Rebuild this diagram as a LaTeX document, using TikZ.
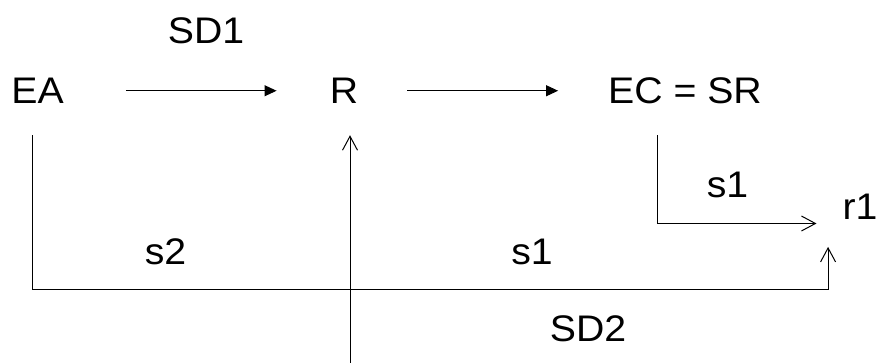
\documentclass[tikz,border=0pt]{standalone}
\usepackage{fontspec}
\setmainfont{Liberation Sans}
\usetikzlibrary{arrows.meta}
\tikzstyle{term} = [inner sep=0pt, anchor=base, text height=26.5pt, text depth=0pt, font=\fontsize{37}{44}\selectfont\addfontfeature{FakeStretch=1.06}]
\tikzstyle{arrow} = [line width=1pt,-{Triangle[length=12pt,width=11pt]}]
\tikzstyle{openarrow} = [line width=1pt,-{Straight Barb[length=14pt,width=15pt]}]

\begin{document}
\begin{tikzpicture}[x=1pt,y=1pt]
\useasboundingbox (0,0) rectangle (877,363);

\node (ea) [term] at (37.5,259) {EA};
\node (r) [term] at (344,259) {R};
\node (ec) [term] at (685,259) {EC = SR};
\node (r1) [term] at (860,143) {r1};

\node (sd1) [term] at (206,319) {SD1};
\node (sd2) [term] at (588,21.3) {SD2};
\node (s2) [term] at (165.5,98) {s2};
\node (s1low) [term] at (532,98) {s1};
\node (s1up) [term] at (727.5,165) {s1};

\coordinate (foot) at (350,0);

\draw [arrow] ([xshift=62pt]ea.east) -- ([xshift=-53.1pt]r.west);
\draw [arrow] ([xshift=49.1pt]r.east) -- ([xshift=-49.9pt]ec.west);
\draw [openarrow] (foot) -- ([xshift=6pt,yshift=-31pt]r.south);
\draw [openarrow] ([xshift=-27.3pt,yshift=-31pt]ec.south) |- ([xshift=-25.9pt,yshift=-3.3pt]r1.south west);
\draw [openarrow] ([xshift=-5.2pt,yshift=-31pt]ea.south) -- ++(0,-154.3) -| ([xshift=-14.3pt,yshift=-26.7pt]r1.south west);

\end{tikzpicture}
\end{document}
